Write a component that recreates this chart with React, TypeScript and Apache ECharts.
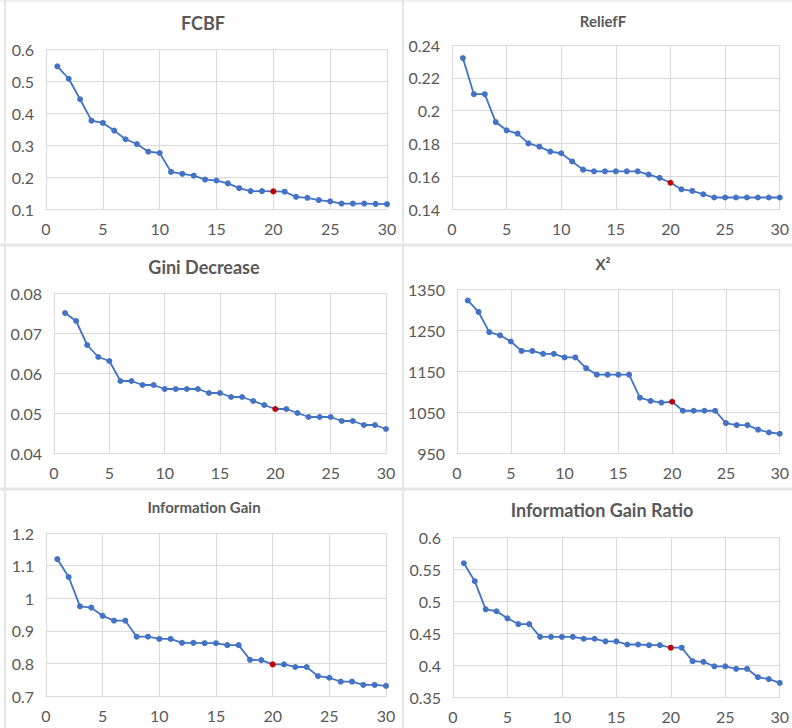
import React, { useEffect, useRef } from "react";
import * as echarts from "echarts";

// Rank of feature (x axis)
const ranks = [1, 2, 3, 4, 5, 6, 7, 8, 9, 10, 11, 12, 13, 14, 15, 16, 17, 18, 19, 20, 21, 22, 23, 24, 25, 26, 27, 28, 29, 30];
const highlightRank = 20;

const titles = ["FCBF", "ReliefF", "Gini Decrease", "X²", "Information Gain", "Information Gain Ratio"];

const fcbf = [0.546, 0.507, 0.443, 0.376, 0.369, 0.345, 0.318, 0.303, 0.279, 0.275, 0.216, 0.21, 0.204, 0.192, 0.189, 0.18, 0.165, 0.156, 0.156, 0.155, 0.154, 0.138, 0.135, 0.128, 0.124, 0.117, 0.117, 0.117, 0.116, 0.115];
const reliefF = [0.232, 0.21, 0.21, 0.193, 0.188, 0.186, 0.18, 0.178, 0.175, 0.174, 0.169, 0.164, 0.163, 0.163, 0.163, 0.163, 0.163, 0.161, 0.159, 0.156, 0.152, 0.151, 0.149, 0.147, 0.147, 0.147, 0.147, 0.147, 0.147, 0.147];
const giniDecrease = [0.075, 0.073, 0.067, 0.064, 0.063, 0.058, 0.058, 0.057, 0.057, 0.056, 0.056, 0.056, 0.056, 0.055, 0.055, 0.054, 0.054, 0.053, 0.052, 0.051, 0.051, 0.05, 0.049, 0.049, 0.049, 0.048, 0.048, 0.047, 0.047, 0.046];
const chiSquare = [1322, 1294, 1245, 1237, 1222, 1199, 1199, 1192, 1192, 1183, 1183, 1157, 1141, 1141, 1141, 1141, 1085, 1077, 1073, 1075, 1053, 1053, 1053, 1053, 1023, 1018, 1018, 1007, 1000, 997];
const infoGain = [1.12, 1.065, 0.975, 0.971, 0.946, 0.931, 0.931, 0.882, 0.882, 0.875, 0.875, 0.863, 0.863, 0.862, 0.862, 0.856, 0.856, 0.811, 0.81, 0.797, 0.797, 0.789, 0.789, 0.761, 0.756, 0.744, 0.744, 0.734, 0.734, 0.731];
const infoGainRatio = [0.559, 0.531, 0.487, 0.484, 0.473, 0.464, 0.464, 0.444, 0.444, 0.444, 0.444, 0.441, 0.441, 0.437, 0.437, 0.432, 0.432, 0.431, 0.431, 0.427, 0.427, 0.406, 0.405, 0.398, 0.398, 0.394, 0.394, 0.381, 0.378, 0.372];

// y-axis ranges [min, max, interval]
const yRanges = [
  [0.1, 0.6, 0.1],
  [0.14, 0.24, 0.02],
  [0.04, 0.08, 0.01],
  [950, 1350, 100],
  [0.7, 1.2, 0.1],
  [0.35, 0.6, 0.05],
];
const xRange = [0, 30, 5];

const allSeries = [fcbf, reliefF, giniDecrease, chiSquare, infoGain, infoGainRatio];

// layout (pixels)
const gridBoxes = [
  { left: 46, top: 49, width: 341, height: 160 },
  { left: 452, top: 45, width: 331, height: 164 },
  { left: 54, top: 293, width: 332, height: 160 },
  { left: 457, top: 289, width: 327, height: 164 },
  { left: 46, top: 533, width: 340, height: 163 },
  { left: 453, top: 537, width: 330, height: 160 },
];
const titleBoxes = [
  { x: 203, y: 23, size: 18 },
  { x: 603, y: 21, size: 15 },
  { x: 204, y: 267, size: 18 },
  { x: 603, y: 264, size: 15 },
  { x: 204, y: 507, size: 15 },
  { x: 602, y: 510, size: 18 },
];

const FONT = "Lato, 'Open Sans', sans-serif";
const TEXT = "#595959";
const GRID = "#d9d9d9";
const LINE = "#4472C4";
const RED = "#C00000";
const SEP = "#e6e6e6";

export default function App() {
  const ref = useRef<HTMLDivElement>(null);

  useEffect(() => {
    if (!ref.current) return;
    const chart = echarts.init(ref.current, null, { renderer: "svg" });

    const grid = gridBoxes.map((g) => ({ ...g, containLabel: false }));
    const xAxis = gridBoxes.map((_, i) => ({
      type: "value",
      gridIndex: i,
      min: xRange[0],
      max: xRange[1],
      interval: xRange[2],
      axisLine: { show: true, lineStyle: { color: GRID, width: 1 } },
      axisTick: { show: false },
      splitLine: { show: true, lineStyle: { color: GRID, width: 1 } },
      axisLabel: { color: TEXT, fontSize: 16, fontFamily: FONT, margin: 11 },
    }));
    const yAxis = yRanges.map((r, i) => ({
      type: "value",
      gridIndex: i,
      min: r[0],
      max: r[1],
      interval: r[2],
      axisLine: { show: false },
      axisTick: { show: false },
      splitLine: { show: true, lineStyle: { color: GRID, width: 1 } },
      axisLabel: {
        color: TEXT,
        fontSize: 16,
        fontFamily: FONT,
        margin: 12,
        formatter: (v: number) => String(v),
      },
    }));
    const series = allSeries.map((vals, i) => ({
      type: "line",
      xAxisIndex: i,
      yAxisIndex: i,
      symbol: "circle",
      symbolSize: 6,
      lineStyle: { color: LINE, width: 1.8 },
      itemStyle: { color: LINE },
      z: 3,
      data: vals.map((v, k) => ({
        value: [ranks[k], v],
        itemStyle: ranks[k] === highlightRank ? { color: RED } : undefined,
      })),
    }));

    const graphic: any[] = [
      { type: "line", shape: { x1: 0, y1: 1, x2: 792, y2: 1 }, style: { stroke: "#f0f0f0", lineWidth: 2 }, silent: true },
      { type: "line", shape: { x1: 5, y1: 0, x2: 5, y2: 728 }, style: { stroke: SEP, lineWidth: 2 }, silent: true },
      { type: "line", shape: { x1: 403, y1: 0, x2: 403, y2: 728 }, style: { stroke: SEP, lineWidth: 2 }, silent: true },
      { type: "line", shape: { x1: 0, y1: 245, x2: 792, y2: 245 }, style: { stroke: SEP, lineWidth: 3 }, silent: true },
      { type: "line", shape: { x1: 0, y1: 489, x2: 792, y2: 489 }, style: { stroke: SEP, lineWidth: 3 }, silent: true },
    ];
    titles.forEach((t, i) => {
      const b = titleBoxes[i];
      graphic.push({
        type: "text",
        x: b.x,
        y: b.y,
        silent: true,
        style: {
          text: t,
          fill: TEXT,
          fontFamily: FONT,
          fontSize: b.size,
          fontWeight: "bold",
          align: "center",
          verticalAlign: "middle",
        },
      });
    });

    chart.setOption({
      animation: false,
      backgroundColor: "#ffffff",
      grid,
      xAxis,
      yAxis,
      series,
      graphic,
    } as any);

    return () => chart.dispose();
  }, []);

  return (
    <div
      ref={ref}
      style={{ position: "absolute", left: 0, top: 0, width: 792, height: 728 }}
    />
  );
}
